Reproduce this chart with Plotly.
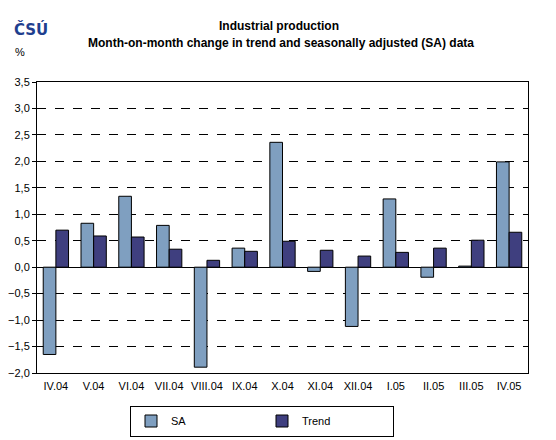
import plotly.graph_objects as go

months = ["IV.04", "V.04", "VI.04", "VII.04", "VIII.04", "IX.04", "X.04",
          "XI.04", "XII.04", "I.05", "II.05", "III.05", "IV.05"]
sa = [-1.65, 0.83, 1.34, 0.79, -1.89, 0.36, 2.36, -0.08, -1.12, 1.29, -0.19, 0.02, 1.99]
trend = [0.70, 0.59, 0.57, 0.34, 0.13, 0.30, 0.49, 0.32, 0.21, 0.28, 0.36, 0.51, 0.66]

y_min, y_max = -2.0, 3.5
font = "Liberation Sans, Arial, sans-serif"

# page body has an 8px margin, so the figure is drawn 8px in from the window edge
OFF = 8
W, H = 556 - OFF, 440 - OFF
# plot box in window pixels: x 37..528, y 82..373
L, R, T, B = 37 - OFF, W - (528 - OFF), 82 - OFF, H - (373 - OFF)
plot_w, plot_h = W - L - R, H - T - B


def px_x(px):
    return (px - OFF - L) / plot_w


def px_y(py):
    return (H - B - (py - OFF)) / plot_h


fig = go.Figure()
fig.add_trace(go.Bar(x=months, y=sa, name="SA",
                     marker=dict(color="#7F9FC0", line=dict(color="black", width=1))))
fig.add_trace(go.Bar(x=months, y=trend, name="Trend",
                     marker=dict(color="#3F3F7F", line=dict(color="black", width=1))))

# tick marks sitting on the zero line, between categories
zero_pos = (0 - y_min) / (y_max - y_min)

fig.update_layout(
    width=W, height=H,
    margin=dict(l=L, r=R, t=T, b=B, autoexpand=False),
    paper_bgcolor="white", plot_bgcolor="white",
    barmode="group", bargap=0.33, bargroupgap=0,
    separators=",.",
    font=dict(family=font, size=11, color="black"),
    showlegend=True,
    legend=dict(orientation="h", x=px_x(262), xanchor="center", y=px_y(421), yanchor="middle",
                bordercolor="black", borderwidth=1, entrywidth=86,
                font=dict(size=11), traceorder="normal"),
    xaxis=dict(showline=True, linecolor="black", linewidth=1, mirror=True,
               ticks="", showgrid=False, tickfont=dict(size=11), ticklabelstandoff=3),
    xaxis2=dict(overlaying="x", anchor="free", position=zero_pos,
                range=[-0.5, len(months) - 0.5],
                tickmode="array", tickvals=[i + 0.5 for i in range(len(months) - 1)],
                ticks="outside", ticklen=4, tickcolor="black", showticklabels=False,
                showgrid=False, zeroline=False, showline=True, linecolor="black", linewidth=1),
    annotations=[
        dict(text="<b>Industrial production</b>", x=px_x(279), y=px_y(26),
             font=dict(size=12)),
        dict(text="<b>Month-on-month change in trend and seasonally adjusted (SA) data</b>",
             x=px_x(281), y=px_y(43), font=dict(size=12)),
        dict(text="<b>ČSÚ</b>", x=px_x(31), y=px_y(30),
             font=dict(family="DejaVu Sans, sans-serif", size=15, color="#1F3F8F")),
        dict(text="%", x=px_x(20), y=px_y(52), font=dict(size=11)),
    ],
)
fig.update_annotations(xref="paper", yref="paper", showarrow=False,
                       xanchor="center", yanchor="middle")

fig.update_yaxes(range=[y_min, y_max], dtick=0.5, tick0=0, tickformat=".1f",
                 showline=True, linecolor="black", linewidth=1, mirror=True,
                 ticks="outside", ticklen=4, tickcolor="black",
                 showgrid=True, gridcolor="black", gridwidth=1, griddash="dash",
                 zeroline=True, zerolinecolor="black", zerolinewidth=1,
                 tickfont=dict(size=11))

fig.write_html("out.html")
